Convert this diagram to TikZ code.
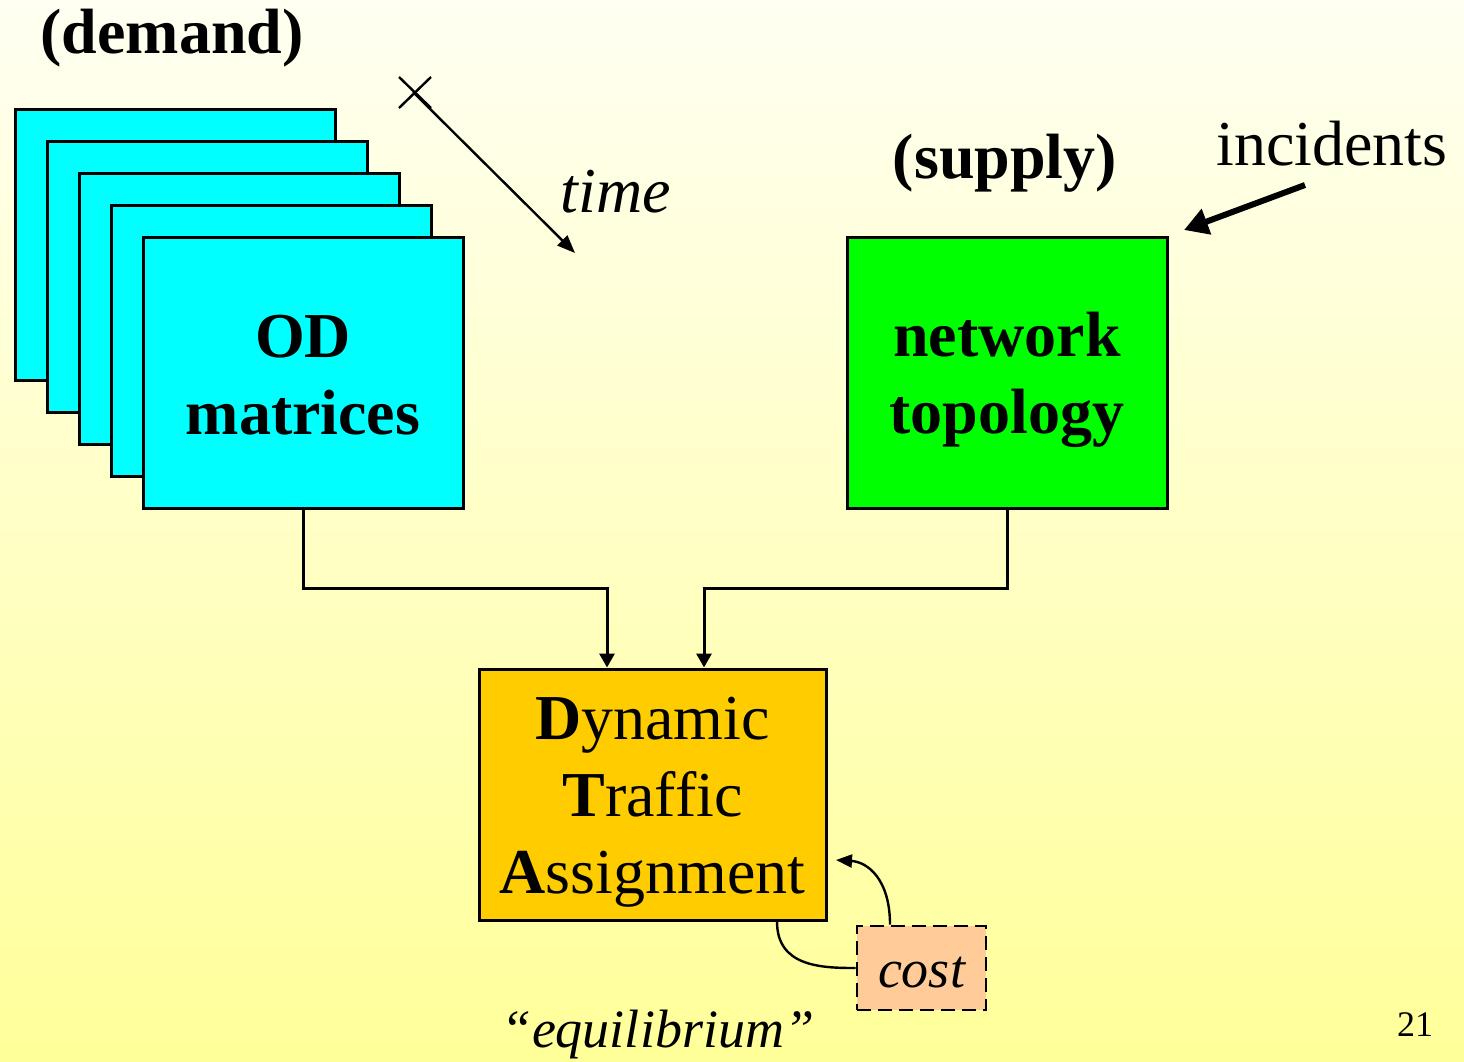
\documentclass[tikz,border=0pt]{standalone}
\usepackage{fontspec}
\setmainfont{Liberation Serif}
\usetikzlibrary{arrows.meta}
\definecolor{bgtop}{HTML}{FFFFF2}
\definecolor{bgbot}{HTML}{FFFF99}
\definecolor{odcyan}{HTML}{00FFFF}
\definecolor{netgreen}{HTML}{00FF00}
\definecolor{dtaorange}{HTML}{FFCC00}
\definecolor{costpeach}{HTML}{FFCC99}
\tikzset{
  box/.style={draw=black, line width=3pt, inner sep=0pt},
  odbox/.style={box, fill=odcyan, minimum width=320pt, minimum height=271pt},
  boxtext/.style={inner sep=0pt, align=center, font=\fontsize{64}{77}\selectfont},
  conn/.style={draw=black, line width=3pt, -{Triangle[length=14pt,width=15pt]}},
  thinline/.style={draw=black, line width=2.4pt},
  lbl/.style={anchor=base, inner sep=0pt, font=\fontsize{64}{77}\selectfont},
  smalllbl/.style={anchor=base, inner sep=0pt, font=\fontsize{54}{64}\selectfont},
}
\begin{document}
\begin{tikzpicture}[x=1pt,y=-1pt]
\useasboundingbox (0,0) rectangle (1464,1061);
\shade[top color=bgtop, bottom color=bgbot] (0,0) rectangle (1464,1061);

% stack of OD matrices
\node[odbox] (s4) at (175,244.5) {};
\node[odbox] (s3) at (207,276.5) {};
\node[odbox] (s2) at (239,308.5) {};
\node[odbox] (s1) at (271,340.5) {};
\node[odbox] (od) at (303,372.5) {};
\node[boxtext] (odt) at ([yshift=-3pt]od.center) {\textbf{OD}\\\textbf{matrices}};

\node[box, fill=netgreen, minimum width=320pt, minimum height=271pt] (net) at (1007,372.5) {};
\node[boxtext] (nett) at ([yshift=-7pt]net.center) {\textbf{network}\\\textbf{topology}};

\node[box, fill=dtaorange, minimum width=347pt, minimum height=251pt] (dta) at (652.5,794.5) {};
\node[boxtext] (dtat) at ([yshift=-8pt]dta.center)
  {\textbf{D}ynamic\\\textbf{T}raffic\\\textbf{A}ssignment};

\node[draw=black, line width=2.6pt, dash pattern=on 14pt off 7pt, fill=costpeach,
  minimum width=129pt, minimum height=84pt, inner sep=0pt] (cost) at (921.5,968) {};
\node[smalllbl, font=\fontsize{54}{64}\selectfont\itshape] (costt) at (921.5,987) {cost};

% labels
\node[lbl] (demand) at (172,53) {\textbf{(demand)}};
\node[lbl] (supply) at (1005,178) {\textbf{(supply)}};
\node[lbl] (incid) at (1332,165) {incidents};
\node[lbl, font=\fontsize{64}{77}\selectfont\itshape] (time) at (616,212) {time};
\node[smalllbl, font=\fontsize{54}{64}\selectfont\itshape] (equil) at (658,1047) {“equilibrium”};
\node[anchor=base, inner sep=0pt, font=\fontsize{36}{40}\selectfont] (pnum) at (1415,1036) {21};

% time axis
\coordinate (tx) at (413,92);
\coordinate (ta) at (399,77);
\coordinate (tb) at (431,108);
\coordinate (tc) at (431,77);
\coordinate (td) at (399,108);
\coordinate (tend) at (575,253);
\draw[thinline] (ta) -- (tb);
\draw[thinline] (tc) -- (td);
\draw[thinline, -{Triangle[length=18pt,width=14pt]}] (tx) -- (tend);

% incidents arrow
\coordinate (itail) at (1305,185);
\coordinate (itip) at (1184,230);
\draw[line width=6pt, -{Triangle[length=24pt,width=26pt]}] (itail) -- (itip);

% connectors
\draw[conn] (od.south) -- (od.south |- 0,588) -| ([xshift=-45.5pt]dta.north);
\draw[conn] (net.south) -- (net.south |- 0,588) -| ([xshift=51.5pt]dta.north);

% cost feedback
\coordinate (ctip) at (836,860);
\draw[thinline, -{Triangle[length=16pt,width=13pt]}] ([xshift=-31.5pt]cost.north) .. controls +(0,-45) and (868,862) .. (ctip);
\draw[thinline] ([xshift=124.5pt]dta.south) .. controls +(0,45) and +(-35,0) .. (cost.west);
\end{tikzpicture}
\end{document}
